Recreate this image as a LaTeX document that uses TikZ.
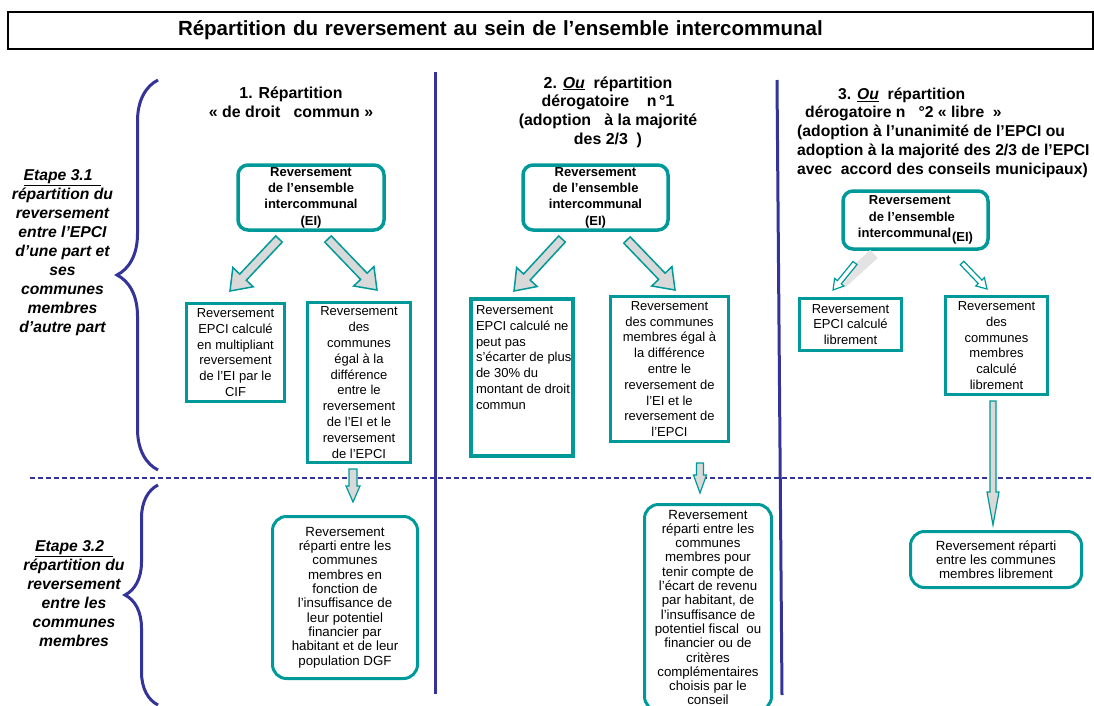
\documentclass[tikz,border=0pt]{standalone}
\usepackage{fontspec}
\setmainfont{Liberation Sans}
\usepackage{tikz}
\usetikzlibrary{positioning}
\usetikzlibrary{calc}
\usetikzlibrary{decorations.pathreplacing}
\definecolor{boxColor}{rgb}{0,0.6,0.6}
\definecolor{lineColor}{rgb}{0.2,0.2,0.6}
\definecolor{arrowFill}{rgb}{0.85,0.85,0.85}
\newcommand{\blockArrow}[6][]{%
  \coordinate (hb) at ($(#3)!#6!(#2)$);
  \draw[#1] ($(#2)!#4!90:(#3)$) -- ($(hb)!#4!90:(#3)$) -- ($(hb)!#5!90:(#3)$) -- (#3)
    -- ($(hb)!#5!-90:(#3)$) -- ($(hb)!#4!-90:(#3)$) -- ($(#2)!#4!-90:(#3)$) -- cycle;
}

\begin{document}
\begin{tikzpicture}[x=1pt,y=-1pt]

          \tikzstyle{titleBox} = [draw, line width=1.6pt, minimum height=37pt, text width=1085pt, inner sep=0pt, align=left, font=\fontsize{20.5}{24}\selectfont\bfseries];
          \tikzstyle{headText} = [align=center, font=\fontsize{15.9}{18.7}\selectfont\bfseries];
          \tikzstyle{stepText} = [align=center, font=\fontsize{15.7}{19}\selectfont\bfseries\itshape];
          \tikzstyle{topBox} = [draw=boxColor, line width=3.5pt, rounded corners=10pt, align=center, inner sep=0pt, font=\fontsize{13}{16.3}\selectfont\bfseries];
          \tikzstyle{midBox} = [draw=boxColor, line width=3pt, align=center, inner sep=0pt, font=\fontsize{13}{15.8}\selectfont];
          \tikzstyle{lowBox} = [draw=boxColor, line width=3pt, rounded corners=14pt, align=center, inner sep=0pt, font=\fontsize{13.3}{14.3}\selectfont];

          \tikzstyle{sepLine} = [lineColor, line width=3pt];
          \tikzstyle{stepLine} = [lineColor, line width=1.5pt, dash pattern=on 5pt off 3pt];
          \tikzstyle{stepBrace} = [lineColor, line width=3pt, decorate];
          \tikzstyle{bigArrow} = [draw=boxColor, fill=arrowFill, line width=1.5pt];
          \tikzstyle{thinArrow} = [draw=boxColor, fill=white, line width=1.2pt];
          \tikzstyle{downArrow} = [draw=boxColor, fill=arrowFill, line width=1.2pt];

          \useasboundingbox (0,0) rectangle (1094,706);

          \node[titleBox] (title) at (550.5,30.5) {\hspace*{170pt}Répartition du reversement au sein de l’ensemble intercommunal};

          \node[stepText] (step31) at (62.5,253) {\underline{Etape 3.1~~}\\ répartition du\\ reversement\\ entre l’EPCI\\ d’une part et\\ ses\\ communes\\ membres\\ d’autre part};
          \node[stepText] (step32) at (74,594) {\underline{Etape 3.2~~}\\ répartition du\\ reversement\\ entre les\\ communes\\ membres};

          \node[headText] (head1) at (291,102.5) {1. Répartition\\ «~de droit\ \ \ commun~»};
          \node[headText] (head2) at (608,112) {2. \underline{\textit{Ou}}\ \ répartition\\ dérogatoire\ \ \ \ n\,°1\\ (adoption\ \ \ à la majorité\\ des 2/3\ \ )};
          \node[headText, align=left, anchor=west, inner sep=0pt, font=\fontsize{15.7}{18.7}\selectfont\bfseries] (head3) at (797,132.5) {\hspace*{41pt}3. \underline{\textit{Ou}}\ \ répartition\\ \hspace*{8pt}dérogatoire n\ \ \ °2 «~libre\ \ »\\ (adoption à l’unanimité de l’EPCI ou\\ adoption à la majorité des 2/3 de l’EPCI\\ avec\ \ accord des conseils municipaux)};

          \node[topBox, minimum width=146pt, minimum height=65pt] (ei1) at (311,197.5) {Reversement\\ de l’ensemble\\ intercommunal\\ (EI)};
          \node[topBox, minimum width=145pt, minimum height=65pt] (ei2) at (595.5,197.5) {Reversement\\ de l’ensemble\\ intercommunal\\ (EI)};
          \node[topBox, align=left, minimum width=145pt, minimum height=58pt] (ei3) at (915.5,220) {\hspace*{11pt}Reversement\\ \hspace*{11pt}de l’ensemble\\ intercommunal\kern1pt\raisebox{-4pt}{(EI)}};

          \node[midBox, minimum width=98pt, minimum height=98pt] (epci1) at (235.5,352.5) {Reversement\\ EPCI calculé\\ en multipliant\\ reversement\\ de l’EI par le\\ CIF};
          \node[midBox, minimum width=103pt, minimum height=160pt] (com1) at (359,382.5) {Reversement\\ des\\ communes\\ égal à la\\ différence\\ entre le\\ reversement\\ de l’EI et le\\ reversement\\ de l’EPCI};
          \node[midBox, line width=4pt, minimum width=102pt, minimum height=157pt] (epci2) at (522,377.5) {\parbox[c][144pt][t]{92pt}{\raggedright Reversement\\ \mbox{EPCI calculé ne}\\ peut pas\\ \mbox{s'écarter de plus}\\ de 30\% du\\ \mbox{montant de droit}\\ commun}};
          \node[midBox, minimum width=118pt, minimum height=145pt] (com2) at (669.5,369) {Reversement\\ des communes\\ membres égal à\\ la différence\\ entre le\\ reversement de\\ l'EI et le\\ reversement de\\ l'EPCI};
          \node[midBox, minimum width=102pt, minimum height=52pt] (epci3) at (850.5,324.5) {Reversement\\ EPCI calculé\\ librement};
          \node[midBox, minimum width=102pt, minimum height=98pt] (com3) at (996.5,345.5) {Reversement\\ des\\ communes\\ membres\\ calculé\\ librement};

          \node[lowBox, minimum width=145pt, minimum height=162pt] (low1) at (345,597.5) {Reversement\\ réparti entre les\\ communes\\ membres en\\ fonction de\\ l'insuffisance de\\ leur potentiel\\ financier par\\ habitant et de leur\\ population DGF};
          \node[lowBox, minimum width=127pt, minimum height=206pt] (low2) at (708,607.5) {Reversement\\ réparti entre les\\ communes\\ membres pour\\ tenir compte de\\ l'écart de revenu\\ par habitant, de\\ l'insuffisance de\\ potentiel fiscal\ \ ou\\ financier ou de\\ critères\\ complémentaires\\ choisis par le\\ conseil};
          \node[lowBox, minimum width=171pt, minimum height=56pt] (low3) at (996,559.5) {Reversement réparti\\ entre les communes\\ membres librement};

          \coordinate (a1s) at (279,239);
          \coordinate (a1e) at (230,291);
          \coordinate (b1s) at (328,239);
          \coordinate (b1e) at (377,290);
          \coordinate (a2s) at (562,239);
          \coordinate (a2e) at (514,291);
          \coordinate (b2s) at (627,240);
          \coordinate (b2e) at (675,290);
          \coordinate (a3s) at (855,263);
          \coordinate (a3e) at (833,290);
          \coordinate (b3s) at (962,263);
          \coordinate (b3e) at (987,289);
          \coordinate (c1s) at (353,469);
          \coordinate (c1e) at (353,502);
          \coordinate (c2s) at (700,463);
          \coordinate (c2e) at (700,493);
          \coordinate (c3s) at (993,401);
          \coordinate (c3e) at (993,525);

          \draw[sepLine] (435.5,72) -- (435.5,694);
          \draw[sepLine] (777,80) -- (782,695);
          \draw[stepLine] (30,478) -- (1094,478);
          \draw[stepBrace, decoration={brace, amplitude=41pt}] (158,470) -- (158,80);
          \draw[stepBrace, decoration={brace, amplitude=33pt}] (158,705) -- (158,485);

          \blockArrow[bigArrow]{a1s}{a1e}{4.5pt}{14pt}{19pt}
          \blockArrow[bigArrow]{b1s}{b1e}{4.5pt}{14pt}{19pt}
          \blockArrow[bigArrow]{a2s}{a2e}{4.5pt}{14pt}{19pt}
          \blockArrow[bigArrow]{b2s}{b2e}{4.5pt}{14pt}{19pt}
          \draw[line width=11pt, gray!22] (874,254) -- (842,283);
          \blockArrow[thinArrow]{a3s}{a3e}{2.5pt}{6pt}{10pt}
          \blockArrow[thinArrow]{b3s}{b3e}{2.5pt}{6pt}{10pt}
          \blockArrow[downArrow]{c1s}{c1e}{4pt}{7pt}{16pt}
          \blockArrow[downArrow]{c2s}{c2e}{3.5pt}{6.5pt}{18pt}
          \blockArrow[downArrow]{c3s}{c3e}{3pt}{6pt}{33pt}
        \end{tikzpicture}
\end{document}
